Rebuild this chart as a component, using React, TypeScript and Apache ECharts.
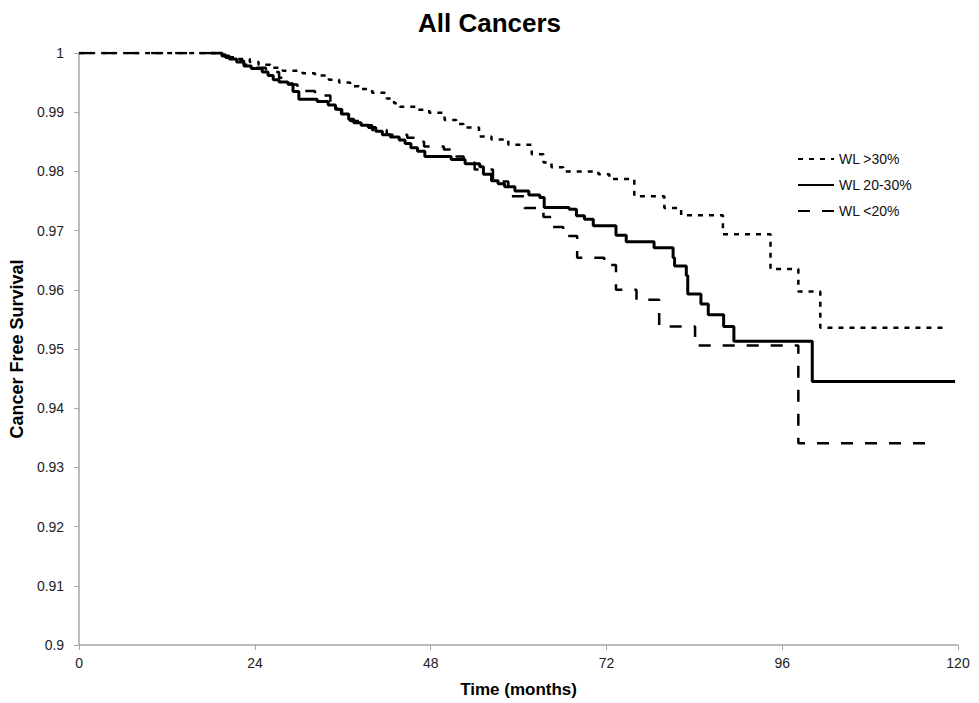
import React, { useEffect, useRef } from "react";
import * as echarts from "echarts";

const title = "All Cancers";
const xTitle = "Time (months)";
const yTitle = "Cancer Free Survival";
const seriesNames = ["WL >30%", "WL 20-30%", "WL <20%"];

// [month, survival]
const wlOver30: number[][] = [
  [0, 1.0], [19.5, 0.9997], [20.5, 0.9993], [21.5, 0.999], [23.3, 0.9985], [24.5, 0.998],
  [26.1, 0.9975], [27.8, 0.997], [30.5, 0.9966], [32.2, 0.9962], [34.1, 0.9955], [35.5, 0.995],
  [37, 0.9944], [38.2, 0.9939], [40, 0.9933], [42, 0.9923], [43, 0.9915], [43.8, 0.9909],
  [46.1, 0.9904], [47.8, 0.9899], [49.9, 0.9887], [51.5, 0.988], [52.5, 0.9874], [54.6, 0.9859],
  [56.3, 0.9854], [58.6, 0.9845], [61.8, 0.9829], [63.4, 0.9815], [64.5, 0.9807], [66.1, 0.98],
  [70.9, 0.9795], [72.4, 0.9787], [75.8, 0.9758], [79.9, 0.9738], [82.2, 0.9726], [87.9, 0.9694],
  [94.4, 0.9635], [98.2, 0.9597], [101.2, 0.9536], [118.2, 0.9536],
];

const wl20to30: number[][] = [
  [18, 1.0], [19.5, 0.9995], [20.5, 0.999], [21.5, 0.9985], [22.5, 0.9978], [23.5, 0.9974],
  [25, 0.9968], [25.8, 0.9962], [26.5, 0.9955], [27.3, 0.9951], [28.5, 0.9948], [29.2, 0.9935],
  [30, 0.9922], [32.5, 0.9918], [34, 0.9912], [35, 0.9905], [35.8, 0.9897], [36.8, 0.9888],
  [37.5, 0.9882], [38.5, 0.9878], [39.5, 0.9874], [40.5, 0.9868], [41.4, 0.9862], [42.5, 0.9858],
  [43.7, 0.9853], [44.5, 0.9847], [45.3, 0.984], [46.2, 0.9834], [47.2, 0.9825], [50.8, 0.982],
  [52.7, 0.9813], [54.7, 0.9808], [55.2, 0.9795], [56.3, 0.9784], [57.2, 0.9779], [58.1, 0.9774],
  [59.5, 0.9767], [61.4, 0.976], [62.9, 0.9756], [63.5, 0.9739], [66.9, 0.9736], [67.9, 0.9725],
  [69.0, 0.9719], [70.2, 0.9708], [73.3, 0.9692], [74.7, 0.9681], [78.5, 0.9671], [81.1, 0.9654],
  [81.3, 0.964], [82.9, 0.9624], [83.1, 0.9593], [84.9, 0.9576], [85.9, 0.9558], [88.0, 0.9538],
  [89.4, 0.9513], [100.1, 0.9445], [119.6, 0.9445],
];

const wlUnder20: number[][] = [
  [0, 1.0], [19, 0.9997], [20, 0.9992], [21, 0.9987], [22.5, 0.998], [24, 0.9975], [25.5, 0.9968],
  [27.3, 0.9958], [28.5, 0.9947], [29.8, 0.9936], [32.2, 0.9928], [34.3, 0.9916], [35.2, 0.9905],
  [35.9, 0.9894], [37, 0.9885], [38.5, 0.9878], [40, 0.987], [42, 0.9862], [44.8, 0.9857],
  [46, 0.985], [47.1, 0.9842], [49.8, 0.9837], [51.5, 0.9825], [52.5, 0.9815], [54, 0.9803],
  [56.5, 0.9783], [58.6, 0.9758], [60.8, 0.9738], [63.4, 0.9723], [64.5, 0.9706], [66.1, 0.9691],
  [68, 0.9654], [71.7, 0.9642], [73.3, 0.96], [76.1, 0.9583], [79.2, 0.9538], [84.1, 0.9506],
  [98.2, 0.9341], [116.2, 0.9341],
];

const xMin = 0;
const xMax = 120;
const xStep = 24;
const yMin = 0.9;
const yMax = 1;
const yStep = 0.01;

export default function App() {
  const ref = useRef<HTMLDivElement>(null);
  useEffect(() => {
    if (!ref.current) return;
    const chart = echarts.init(ref.current, undefined, { renderer: "svg" });
    const font = "'Liberation Sans', Arial, sans-serif";
    const axisColor = "#a6a6a6";
    chart.setOption({
      animation: false,
      backgroundColor: "#ffffff",
      textStyle: { fontFamily: font },
      title: {
        text: title,
        left: "center",
        top: 5,
        textStyle: { fontSize: 26, fontWeight: "bold", color: "#000", fontFamily: font },
      },
      legend: {
        orient: "vertical",
        left: 792,
        top: 147,
        itemWidth: 36,
        itemHeight: 12,
        itemGap: 12,
        data: seriesNames,
        itemStyle: { opacity: 0 },
        textStyle: { fontSize: 14, color: "#111", fontFamily: font },
      },
      grid: { left: 76, right: 21, top: 53, bottom: 55, containLabel: false },
      xAxis: {
        type: "value",
        min: xMin,
        max: xMax,
        interval: xStep,
        name: xTitle,
        nameLocation: "middle",
        nameGap: 36,
        nameTextStyle: { fontSize: 17, fontWeight: "bold", color: "#000", fontFamily: font },
        axisLine: { lineStyle: { color: axisColor, width: 1.5 } },
        axisTick: { show: true, length: 5, lineStyle: { color: axisColor } },
        axisLabel: { fontSize: 14, color: "#222", margin: 11, fontFamily: font },
        splitLine: { show: false },
      },
      yAxis: {
        type: "value",
        min: yMin,
        max: yMax,
        interval: yStep,
        name: yTitle,
        nameLocation: "middle",
        nameGap: 50,
        nameTextStyle: { fontSize: 18, fontWeight: "bold", color: "#000", fontFamily: font },
        axisLine: { show: true, lineStyle: { color: axisColor, width: 1.5 } },
        axisTick: { show: true, length: 5, lineStyle: { color: axisColor } },
        axisLabel: {
          fontSize: 14,
          color: "#222",
          margin: 15,
          fontFamily: font,
          formatter: (v: number) => String(parseFloat(v.toFixed(2))),
        },
        splitLine: { show: false },
      },
      series: [
        {
          name: seriesNames[2],
          type: "line",
          step: "end",
          symbol: "none",
          data: wlUnder20,
          lineStyle: { color: "#000", width: 2.5, type: [12, 12] },
          itemStyle: { color: "#000" },
        },
        {
          name: seriesNames[0],
          type: "line",
          step: "end",
          symbol: "none",
          data: wlOver30,
          lineStyle: { color: "#000", width: 2.5, type: [5, 6] },
          itemStyle: { color: "#000" },
        },
        {
          name: seriesNames[1],
          type: "line",
          step: "end",
          symbol: "none",
          data: wl20to30,
          lineStyle: { color: "#000", width: 3, type: "solid" },
          itemStyle: { color: "#000" },
        },
      ],
    });
    return () => chart.dispose();
  }, []);
  return <div ref={ref} style={{ width: 979, height: 703, position: "absolute", left: 0, top: 0 }} />;
}
